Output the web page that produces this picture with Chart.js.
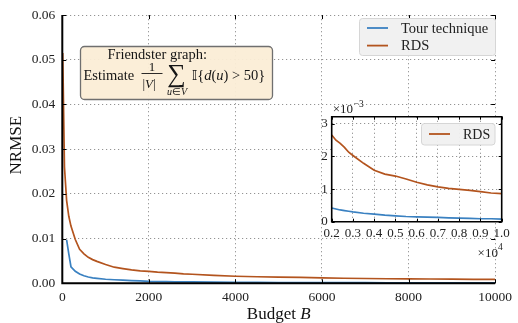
<!DOCTYPE html>
<html>
<head>
<meta charset="utf-8">
<script src="https://cdn.jsdelivr.net/npm/chart.js@4.4.1/dist/chart.umd.min.js"></script>
<style>
  html, body { margin: 0; padding: 0; background: #fff; }
  #wrap { position: relative; width: 518px; height: 323px; }
  canvas { position: absolute; left: 0; top: 0; }
  #inset { pointer-events: none; }
</style>
</head>
<body>
<div id="wrap">
  <canvas id="main" width="518" height="323"></canvas>
  <canvas id="inset" width="518" height="323"></canvas>
</div>
<script>
// budget B and NRMSE values
const budget = [10, 50, 100, 150, 200, 300, 400, 500, 600, 700, 800, 1000, 1200, 1400, 1600, 1800,
                2000, 2200, 2400, 2600, 2800, 3000, 3500, 4000, 4500, 5000, 5500, 6000, 6500, 7000,
                7500, 8000, 8500, 9000, 9500, 10000];
const tourNrmse = [null, null, 0.0097, 0.0066, 0.0037, 0.0027, 0.0021, 0.0017, 0.0014, 0.0012, 0.0011,
                   0.0009, 0.0008, 0.0007, 0.0006, 0.00053, 0.00042, 0.00039, 0.00036, 0.00034, 0.00032,
                   0.00030, 0.00026, 0.00023, 0.00020, 0.00018, 0.00016, 0.00015, 0.00014, 0.00013,
                   0.00012, 0.00011, 0.00010, 0.00009, 0.00009, 0.00008];
const rdsNrmse = [0.0515, 0.0260, 0.0185, 0.0150, 0.0128, 0.0098, 0.0076, 0.0066, 0.0058, 0.0053, 0.0049,
                  0.0042, 0.0036, 0.0033, 0.0030, 0.0028, 0.00266, 0.00250, 0.00240, 0.00228, 0.00213,
                  0.00203, 0.00179, 0.00158, 0.00146, 0.00140, 0.00131, 0.00121, 0.00113, 0.00107,
                  0.00102, 0.00099, 0.00096, 0.00092, 0.00088, 0.00086];

const mainXTicks = [0, 2000, 4000, 6000, 8000, 10000];
const mainYTicks = [0, 0.01, 0.02, 0.03, 0.04, 0.05, 0.06];
const insetXTicks = [2000, 3000, 4000, 5000, 6000, 7000, 8000, 9000, 10000];
const insetYTicks = [0, 1, 2, 3];

const SERIF = '"Liberation Serif", "Times New Roman", serif';
const BLUE = '#3a81c1';
const BROWN = '#b3541e';
const GRID = '#939393';

function points(ys, scale, fromB) {
  const out = [];
  budget.forEach((b, i) => {
    if (b >= fromB && ys[i] != null) out.push({ x: b, y: ys[i] * scale });
  });
  return out;
}

function setTicks(list) {
  return s => { s.ticks = list.map(v => ({ value: v })); };
}

// solid axes + inward tick marks
function frame(sides, len) {
  return {
    id: 'frame',
    afterDraw(chart) {
      const { ctx, chartArea: a, scales: { x, y } } = chart;
      ctx.save();
      ctx.strokeStyle = '#000';
      ctx.lineWidth = 1;
      ctx.beginPath();
      x.ticks.forEach(t => {
        const px = Math.round(x.getPixelForValue(t.value)) + 0.5;
        ctx.moveTo(px, a.bottom); ctx.lineTo(px, a.bottom - len);
        ctx.moveTo(px, a.top); ctx.lineTo(px, a.top + len);
      });
      y.ticks.forEach(t => {
        const py = Math.round(y.getPixelForValue(t.value)) + 0.5;
        ctx.moveTo(a.left, py); ctx.lineTo(a.left + len, py);
        ctx.moveTo(a.right, py); ctx.lineTo(a.right - len, py);
      });
      ctx.stroke();
      ctx.lineWidth = sides.width;
      ctx.beginPath();
      ctx.moveTo(a.left, a.top); ctx.lineTo(a.left, a.bottom); ctx.lineTo(a.right, a.bottom);
      if (sides.all) { ctx.lineTo(a.right, a.top); ctx.closePath(); }
      ctx.stroke();
      ctx.restore();
    }
  };
}

function legendBox(ctx, box, items, font) {
  ctx.save();
  ctx.beginPath();
  ctx.roundRect(box.x, box.y, box.w, box.h, 3);
  ctx.fillStyle = 'rgba(240,240,240,0.95)';
  ctx.fill();
  ctx.strokeStyle = '#d6d6d6';
  ctx.lineWidth = 1;
  ctx.stroke();
  ctx.font = font;
  ctx.textBaseline = 'middle';
  ctx.fillStyle = '#222';
  items.forEach((it, i) => {
    const cy = box.y + box.pad + i * box.row;
    ctx.strokeStyle = it.color;
    ctx.lineWidth = 1.8;
    ctx.beginPath();
    ctx.moveTo(box.x + 7.5, cy); ctx.lineTo(box.x + 28.5, cy);
    ctx.stroke();
    ctx.fillText(it.label, box.x + 41.5, cy + 1);
  });
  ctx.restore();
}

function runs(ctx, x, y, parts) {
  parts.forEach(([t, f]) => {
    ctx.font = f;
    ctx.fillText(t, x, y);
    x += ctx.measureText(t).width;
  });
  return x;
}

const mainDecor = {
  id: 'mainDecor',
  afterDraw(chart) {
    const ctx = chart.ctx;
    const a = chart.chartArea;
    ctx.save();
    ctx.fillStyle = '#111';
    // axis titles
    ctx.textBaseline = 'alphabetic';
    ctx.textAlign = 'left';
    const f1 = `17px ${SERIF}`, f1i = `italic 17px ${SERIF}`;
    ctx.font = f1;
    const w1 = ctx.measureText('Budget ').width;
    ctx.font = f1i;
    const w2 = ctx.measureText('B').width;
    runs(ctx, (a.left + a.right) / 2 - (w1 + w2) / 2, 318.5, [['Budget ', f1], ['B', f1i]]);
    ctx.save();
    ctx.translate(21, (a.top + a.bottom) / 2 - 4);
    ctx.rotate(-Math.PI / 2);
    ctx.textAlign = 'center';
    ctx.font = f1;
    ctx.fillText('NRMSE', 0, 0);
    ctx.restore();

    // annotation box
    ctx.beginPath();
    ctx.roundRect(80.5, 46.5, 192, 53, 4);
    ctx.fillStyle = 'rgba(251,237,214,0.95)';
    ctx.fill();
    ctx.strokeStyle = '#6f6f6f';
    ctx.lineWidth = 1.3;
    ctx.stroke();
    ctx.fillStyle = '#151515';
    ctx.textAlign = 'left';
    const ft = `14.5px ${SERIF}`, fti = `italic 14.5px ${SERIF}`;
    runs(ctx, 107.5, 58.5, [['Friendster graph:', ft]]);
    runs(ctx, 83.5, 80, [['Estimate', ft]]);
    // fraction 1/|V|
    ctx.textAlign = 'center';
    ctx.font = `13px ${SERIF}`;
    ctx.fillText('1', 152, 70.5);
    ctx.fillRect(141.5, 73, 21, 0.9);
    ctx.textAlign = 'left';
    const fs = `13px ${SERIF}`, fsi = `italic 13px ${SERIF}`;
    runs(ctx, 142.5, 87.5, [['|', fs], ['V', fsi], ['|', fs]]);
    // sum
    ctx.font = `26px ${SERIF}`;
    ctx.textAlign = 'center';
    ctx.fillText('\u2211', 176.5, 81.5);
    ctx.textAlign = 'left';
    const fb = `10px ${SERIF}`, fbi = `italic 10px ${SERIF}`;
    runs(ctx, 167, 94.5, [['u', fbi], ['\u2208', fb], ['V', fbi]]);
    // indicator
    runs(ctx, 192, 80, [['\uD835\uDD40', `13.5px "DejaVu Sans", ${SERIF}`], ['{', ft], ['d', fti], ['(', ft], ['u', fti], [')', ft], [' > 50}', ft]]);

    // legend
    legendBox(ctx, { x: 359.5, y: 18.5, w: 136, h: 37, pad: 9.5, row: 17.6 },
      chart.data.datasets.map(d => ({ label: d.label, color: d.borderColor })), `14.5px ${SERIF}`);
    ctx.restore();
  }
};

const insetDecor = {
  id: 'insetDecor',
  beforeDraw(chart) {
    const { ctx, chartArea: a } = chart;
    ctx.save();
    ctx.fillStyle = '#fff';
    ctx.fillRect(a.left, a.top, a.right - a.left, a.bottom - a.top);
    ctx.restore();
  },
  afterDraw(chart) {
    const ctx = chart.ctx;
    const a = chart.chartArea;
    ctx.save();
    ctx.fillStyle = '#222';
    ctx.textBaseline = 'alphabetic';
    ctx.textAlign = 'left';
    const f = `13px ${SERIF}`, fsup = `9.5px ${SERIF}`;
    let x = runs(ctx, a.left + 1, 112.5, [['\u00D710', f]]);
    runs(ctx, x + 0.5, 106.5, [['\u22123', fsup]]);
    ctx.font = f;
    const w = ctx.measureText('\u00D710').width;
    ctx.font = fsup;
    const w2 = ctx.measureText('4').width;
    x = runs(ctx, a.right + 1 - w - w2, 256.5, [['\u00D710', f]]);
    runs(ctx, x, 250, [['4', fsup]]);
    legendBox(ctx, { x: 421.5, y: 123.5, w: 73.5, h: 21.5, pad: 10.5, row: 0 },
      chart.data.datasets.filter(d => d.inLegend).map(d => ({ label: d.label, color: d.borderColor })),
      `14px ${SERIF}`);
    ctx.restore();
  }
};

const lineStyle = { borderWidth: 1.7, pointRadius: 0, tension: 0, fill: false };

new Chart(document.getElementById('main'), {
  type: 'line',
  data: {
    datasets: [
      { label: 'Tour technique', data: points(tourNrmse, 1, 0), borderColor: BLUE, ...lineStyle },
      { label: 'RDS', data: points(rdsNrmse, 1, 0), borderColor: BROWN, ...lineStyle }
    ]
  },
  options: {
    responsive: false,
    animation: false,
    events: [],
    layout: { padding: { left: 0, top: 12.5, right: 16.3, bottom: 0 } },
    plugins: { legend: { display: false }, tooltip: { enabled: false } },
    scales: {
      x: {
        type: 'linear', min: 0, max: 10000,
        afterBuildTicks: setTicks(mainXTicks),
        afterFit: s => { s.height = 39.7; },
        grid: { color: GRID, lineWidth: 1, drawTicks: false },
        border: { display: false, dash: [1.2, 2.8] },
        ticks: { color: '#222', padding: 6, font: { family: SERIF, size: 13.5 }, callback: v => String(v) }
      },
      y: {
        type: 'linear', min: 0, max: 0.06,
        afterBuildTicks: setTicks(mainYTicks),
        afterFit: s => { s.width = 62.3; },
        grid: { color: GRID, lineWidth: 1, drawTicks: false },
        border: { display: false, dash: [1.2, 2.8] },
        ticks: { color: '#222', padding: 7, font: { family: SERIF, size: 13.5 }, callback: v => v.toFixed(2) }
      }
    }
  },
  plugins: [frame({ width: 2, all: false }, 4), mainDecor]
});

new Chart(document.getElementById('inset'), {
  type: 'line',
  data: {
    datasets: [
      { label: 'Tour technique', inLegend: false, data: points(tourNrmse, 1000, 2000), borderColor: BLUE, ...lineStyle },
      { label: 'RDS', inLegend: true, data: points(rdsNrmse, 1000, 2000), borderColor: BROWN, ...lineStyle }
    ]
  },
  options: {
    responsive: false,
    animation: false,
    events: [],
    layout: { padding: { left: 311.7, top: 116.7, right: 16.3, bottom: 81.3 } },
    plugins: { legend: { display: false }, tooltip: { enabled: false } },
    scales: {
      x: {
        type: 'linear', min: 2000, max: 10000,
        afterBuildTicks: setTicks(insetXTicks),
        afterFit: s => { s.height = 20; },
        grid: { color: GRID, lineWidth: 1, drawTicks: false },
        border: { display: false, dash: [1.2, 2.8] },
        ticks: { color: '#222', padding: 4, maxRotation: 0, autoSkip: false,
                 font: { family: SERIF, size: 13 }, callback: v => (v / 10000).toFixed(1) }
      },
      y: {
        type: 'linear', min: 0, max: 3.22,
        afterBuildTicks: setTicks(insetYTicks),
        afterFit: s => { s.width = 20; },
        grid: { color: GRID, lineWidth: 1, drawTicks: false },
        border: { display: false, dash: [1.2, 2.8] },
        ticks: { color: '#222', padding: 4, font: { family: SERIF, size: 13 }, callback: v => String(v) }
      }
    }
  },
  plugins: [frame({ width: 1.6, all: true }, 3), insetDecor]
});
</script>
</body>
</html>
